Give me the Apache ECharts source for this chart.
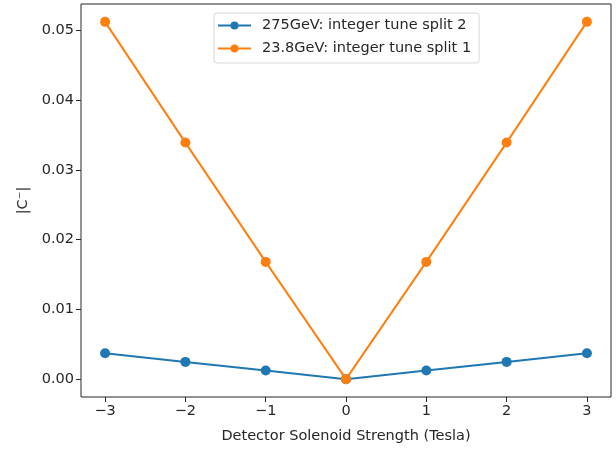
<!DOCTYPE html>
<html>
<head>
<meta charset="utf-8">
<script src="https://cdn.jsdelivr.net/npm/echarts@6/dist/echarts.min.js"></script>
<style>
  html, body { margin: 0; padding: 0; background: #fff; }
  #chart { width: 616px; height: 449px; }
</style>
</head>
<body>
<div id="chart"></div>
<script>
// ========== data ==========
const fieldValues = [-3, -2, -1, 0, 1, 2, 3];
const c275 = [0.0037, 0.00247, 0.00123, 0, 0.00123, 0.00247, 0.0037];
const c238 = [0.0512, 0.0339, 0.0168, 0, 0.0168, 0.0339, 0.0512];
const xTicks = [-3, -2, -1, 0, 1, 2, 3];
const yTicks = [0, 0.01, 0.02, 0.03, 0.04, 0.05];
const seriesNames = ['275GeV: integer tune split 2', '23.8GeV: integer tune split 1'];

const font = 'DejaVu Sans';
const ink = '#262626';
const pair = (xs, ys) => xs.map((x, i) => [x, ys[i]]);

const chart = echarts.init(document.getElementById('chart'), null, { renderer: 'canvas' });

function lineSeries(name, data, color) {
  return {
    name, type: 'line', data,
    symbol: 'circle', symbolSize: 10,
    lineStyle: { color, width: 2 },
    itemStyle: { color },
    emphasis: { disabled: true },
    animation: false
  };
}

chart.setOption({
  backgroundColor: '#fff',
  animation: false,
  grid: {
    left: 81, right: 5, top: 4, bottom: 52,
    show: true, borderColor: ink, borderWidth: 1, backgroundColor: 'transparent'
  },
  legend: {
    left: 214, top: 13,
    orient: 'vertical',
    itemWidth: 33, itemHeight: 10, itemGap: 8,
    padding: [5, 8, 7, 3],
    borderColor: '#d8d8d8', borderWidth: 1, borderRadius: 3,
    backgroundColor: '#fff',
    textStyle: { fontFamily: font, fontSize: 14.5, color: ink, padding: [0, 0, 0, 6] },
    data: seriesNames
  },
  xAxis: {
    type: 'value', min: -3.3, max: 3.3,
    name: 'Detector Solenoid Strength (Tesla)',
    nameLocation: 'middle', nameGap: 32,
    nameTextStyle: { fontFamily: font, fontSize: 14.5, color: ink },
    axisLine: { show: false, onZero: false },
    axisTick: { show: true, inside: false, customValues: xTicks, length: 5, lineStyle: { color: ink } },
    axisLabel: {
      customValues: xTicks, margin: 7,
      fontFamily: font, fontSize: 14.5, color: ink,
      formatter: v => (v < 0 ? '\u2212' + Math.abs(v) : String(v))
    },
    splitLine: { show: false }
  },
  yAxis: {
    type: 'value', min: -0.00256, max: 0.05376,
    name: '|C\u207B|',
    nameLocation: 'middle', nameGap: 50,
    nameTextStyle: { fontFamily: font, fontSize: 14.5, color: ink },
    axisLine: { show: false, onZero: false },
    axisTick: { show: true, inside: false, customValues: yTicks, length: 5, lineStyle: { color: ink } },
    axisLabel: {
      customValues: yTicks, margin: 7,
      fontFamily: font, fontSize: 14.5, color: ink,
      formatter: v => v.toFixed(2)
    },
    splitLine: { show: false }
  },
  series: [
    lineSeries(seriesNames[0], pair(fieldValues, c275), '#1f77b4'),
    lineSeries(seriesNames[1], pair(fieldValues, c238), '#ff7f0e')
  ]
});
</script>
</body>
</html>
